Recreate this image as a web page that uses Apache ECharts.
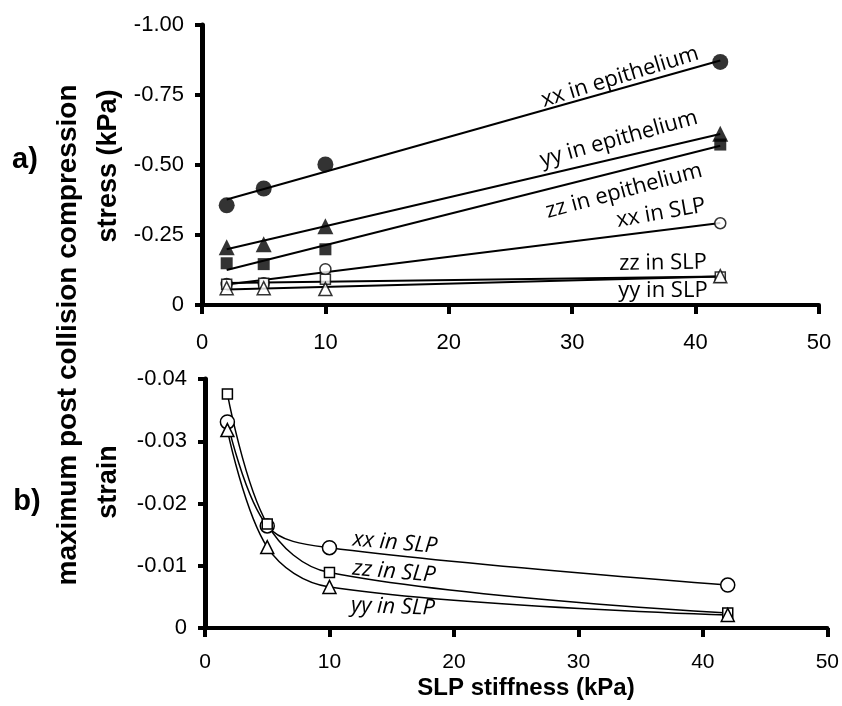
<!DOCTYPE html>
<html>
<head>
<meta charset="utf-8">
<script src="https://cdn.jsdelivr.net/npm/echarts@6/dist/echarts.min.js"></script>
<style>html,body{margin:0;padding:0;background:#fff;}#c{width:842px;height:706px;}</style>
</head>
<body>
<div id="c"></div>
<script>
// ---- data (a) stress ----
const xStress = [2, 5, 10, 42];
const xxEpi = [-0.356, -0.416, -0.502, -0.868];
const yyEpi = [-0.206, -0.217, -0.281, -0.612];
const zzEpi = [-0.149, -0.146, -0.199, -0.573];
const xxSlpStress = [-0.075, -0.078, -0.128, -0.292];
const zzSlpStress = [-0.074, -0.078, -0.092, -0.100];
const yySlpStress = [-0.060, -0.060, -0.057, -0.103];
// fitted trend line end points (x = 2 and x = 42)
const fitX = [2, 42];
const xxEpiFit = [-0.377, -0.873];
const yyEpiFit = [-0.199, -0.611];
const zzEpiFit = [-0.125, -0.569];
const xxSlpFit = [-0.073, -0.293];
const zzSlpFit = [-0.079, -0.102];
const yySlpFit = [-0.055, -0.102];
// ---- data (b) strain ----
const xStrain = [1.8, 5, 10, 42];
const xxStrain = [-0.0331, -0.0164, -0.0129, -0.0069];
const zzStrain = [-0.0376, -0.0167, -0.0089, -0.0024];
const yyStrain = [-0.0318, -0.0130, -0.0066, -0.0021];
// ---- axis ticks ----
const xTicks = [0, 10, 20, 30, 40, 50];
const stressTicks = [-1.00, -0.75, -0.50, -0.25, 0];
const strainTicks = [-0.04, -0.03, -0.02, -0.01, 0];

const pairs = (xs, ys) => xs.map((x, i) => [x, ys[i]]);
const tickFont = size => ({fontFamily: 'Liberation Sans', fontSize: size, color: '#000'});
const fmtY = v => (Math.abs(v) < 1e-9 ? '0' : v.toFixed(2));

function xAxisCfg(gi, margin, size) {
  return {
    gridIndex: gi, type: 'value', min: xTicks[0], max: xTicks[xTicks.length - 1], interval: 10,
    axisLine: {onZero: false, lineStyle: {color: '#000', width: 4}},
    axisTick: {length: 9, lineStyle: {color: '#000', width: 4}},
    axisLabel: Object.assign({margin: margin}, tickFont(size)),
    splitLine: {show: false}
  };
}
function yAxisCfg(gi, ticks, interval) {
  return {
    gridIndex: gi, type: 'value', inverse: true, min: ticks[0], max: ticks[ticks.length - 1], interval: interval,
    axisLine: {onZero: false, lineStyle: {color: '#000', width: 5}},
    axisTick: {length: 7, lineStyle: {color: '#000', width: 4}},
    axisLabel: Object.assign({margin: 18, formatter: fmtY}, tickFont(22)),
    splitLine: {show: false}
  };
}
const filled = {color: '#000'};
const open = {color: '#fff', borderColor: '#000', borderWidth: 1.5};
function pts(name, xs, ys, symbol, size, style) {
  return {name, type: 'scatter', xAxisIndex: 0, yAxisIndex: 0, data: pairs(xs, ys), symbol, symbolSize: size, itemStyle: style, z: 5};
}
function fit(name, ys) {
  return {name, type: 'line', xAxisIndex: 0, yAxisIndex: 0, data: pairs(fitX, ys), showSymbol: false, symbol: 'none',
    lineStyle: {color: '#000', width: 2}, z: 3};
}
function strain(name, ys, symbol, size) {
  return {name, type: 'line', xAxisIndex: 1, yAxisIndex: 1, data: pairs(xStrain, ys), smooth: 0.35,
    symbol, symbolSize: size, showSymbol: true, itemStyle: open, lineStyle: {color: '#000', width: 1.5}, z: 4};
}
const annoFont = '22px "Open Sans"';
function anno(text, x, y, deg, italic) {
  return {type: 'text', x, y, rotation: deg * Math.PI / 180, z: 10,
    style: {text, font: (italic ? 'italic ' : '') + annoFont, fill: '#000', textAlign: 'center', textVerticalAlign: 'middle'}};
}
function title(text, x, y, size, vertical) {
  return {type: 'text', x, y, rotation: vertical ? Math.PI / 2 : 0, z: 10,
    style: {text, font: 'bold ' + size + 'px "Liberation Sans"', fill: '#000', textAlign: 'center', textVerticalAlign: 'middle'}};
}

const chart = echarts.init(document.getElementById('c'), null, {renderer: 'canvas'});
chart.setOption({
  animation: false,
  backgroundColor: '#fff',
  grid: [
    {left: 202, top: 25, width: 617, height: 280},
    {left: 205, top: 379, width: 623, height: 249}
  ],
  xAxis: [xAxisCfg(0, 27, 22), xAxisCfg(1, 24, 21)],
  yAxis: [yAxisCfg(0, stressTicks, 0.25), yAxisCfg(1, strainTicks, 0.01)],
  series: [
    fit('xx in epithelium fit', xxEpiFit),
    fit('yy in epithelium fit', yyEpiFit),
    fit('zz in epithelium fit', zzEpiFit),
    fit('xx in SLP fit', xxSlpFit),
    fit('zz in SLP fit', zzSlpFit),
    fit('yy in SLP fit', yySlpFit),
    pts('xx in epithelium', xStress, xxEpi, 'circle', 16, filled),
    pts('yy in epithelium', xStress, yyEpi, 'triangle', 16, filled),
    pts('zz in epithelium', xStress, zzEpi, 'rect', 12, filled),
    pts('xx in SLP', xStress, xxSlpStress, 'circle', 11, open),
    pts('zz in SLP', xStress, zzSlpStress, 'rect', 10, open),
    pts('yy in SLP', xStress, yySlpStress, 'triangle', 13, open),
    strain('xx in SLP strain', xxStrain, 'circle', 14),
    strain('zz in SLP strain', zzStrain, 'rect', 10),
    strain('yy in SLP strain', yyStrain, 'triangle', 13)
  ],
  graphic: [
    anno('xx in epithelium', 620, 77, 17),
    anno('yy in epithelium', 619, 139, 15.5),
    anno('zz in epithelium', 624, 191, 15),
    anno('xx in SLP', 661, 213, 10),
    anno('zz in SLP', 663, 263, 1),
    anno('yy in SLP', 663, 291, 0),
    anno('xx in SLP', 395, 543, -5, true),
    anno('zz in SLP', 394, 572, -5, true),
    anno('yy in SLP', 393, 607, -2, true),
    title('maximum post collision compression', 68, 335, 28, true),
    title('stress (kPa)', 109, 166, 27, true),
    title('strain', 109, 482, 27, true),
    title('SLP stiffness (kPa)', 526, 688, 24, false),
    title('a)', 25, 160, 29, false),
    title('b)', 27, 502, 29, false)
  ]
});
</script>
</body>
</html>
